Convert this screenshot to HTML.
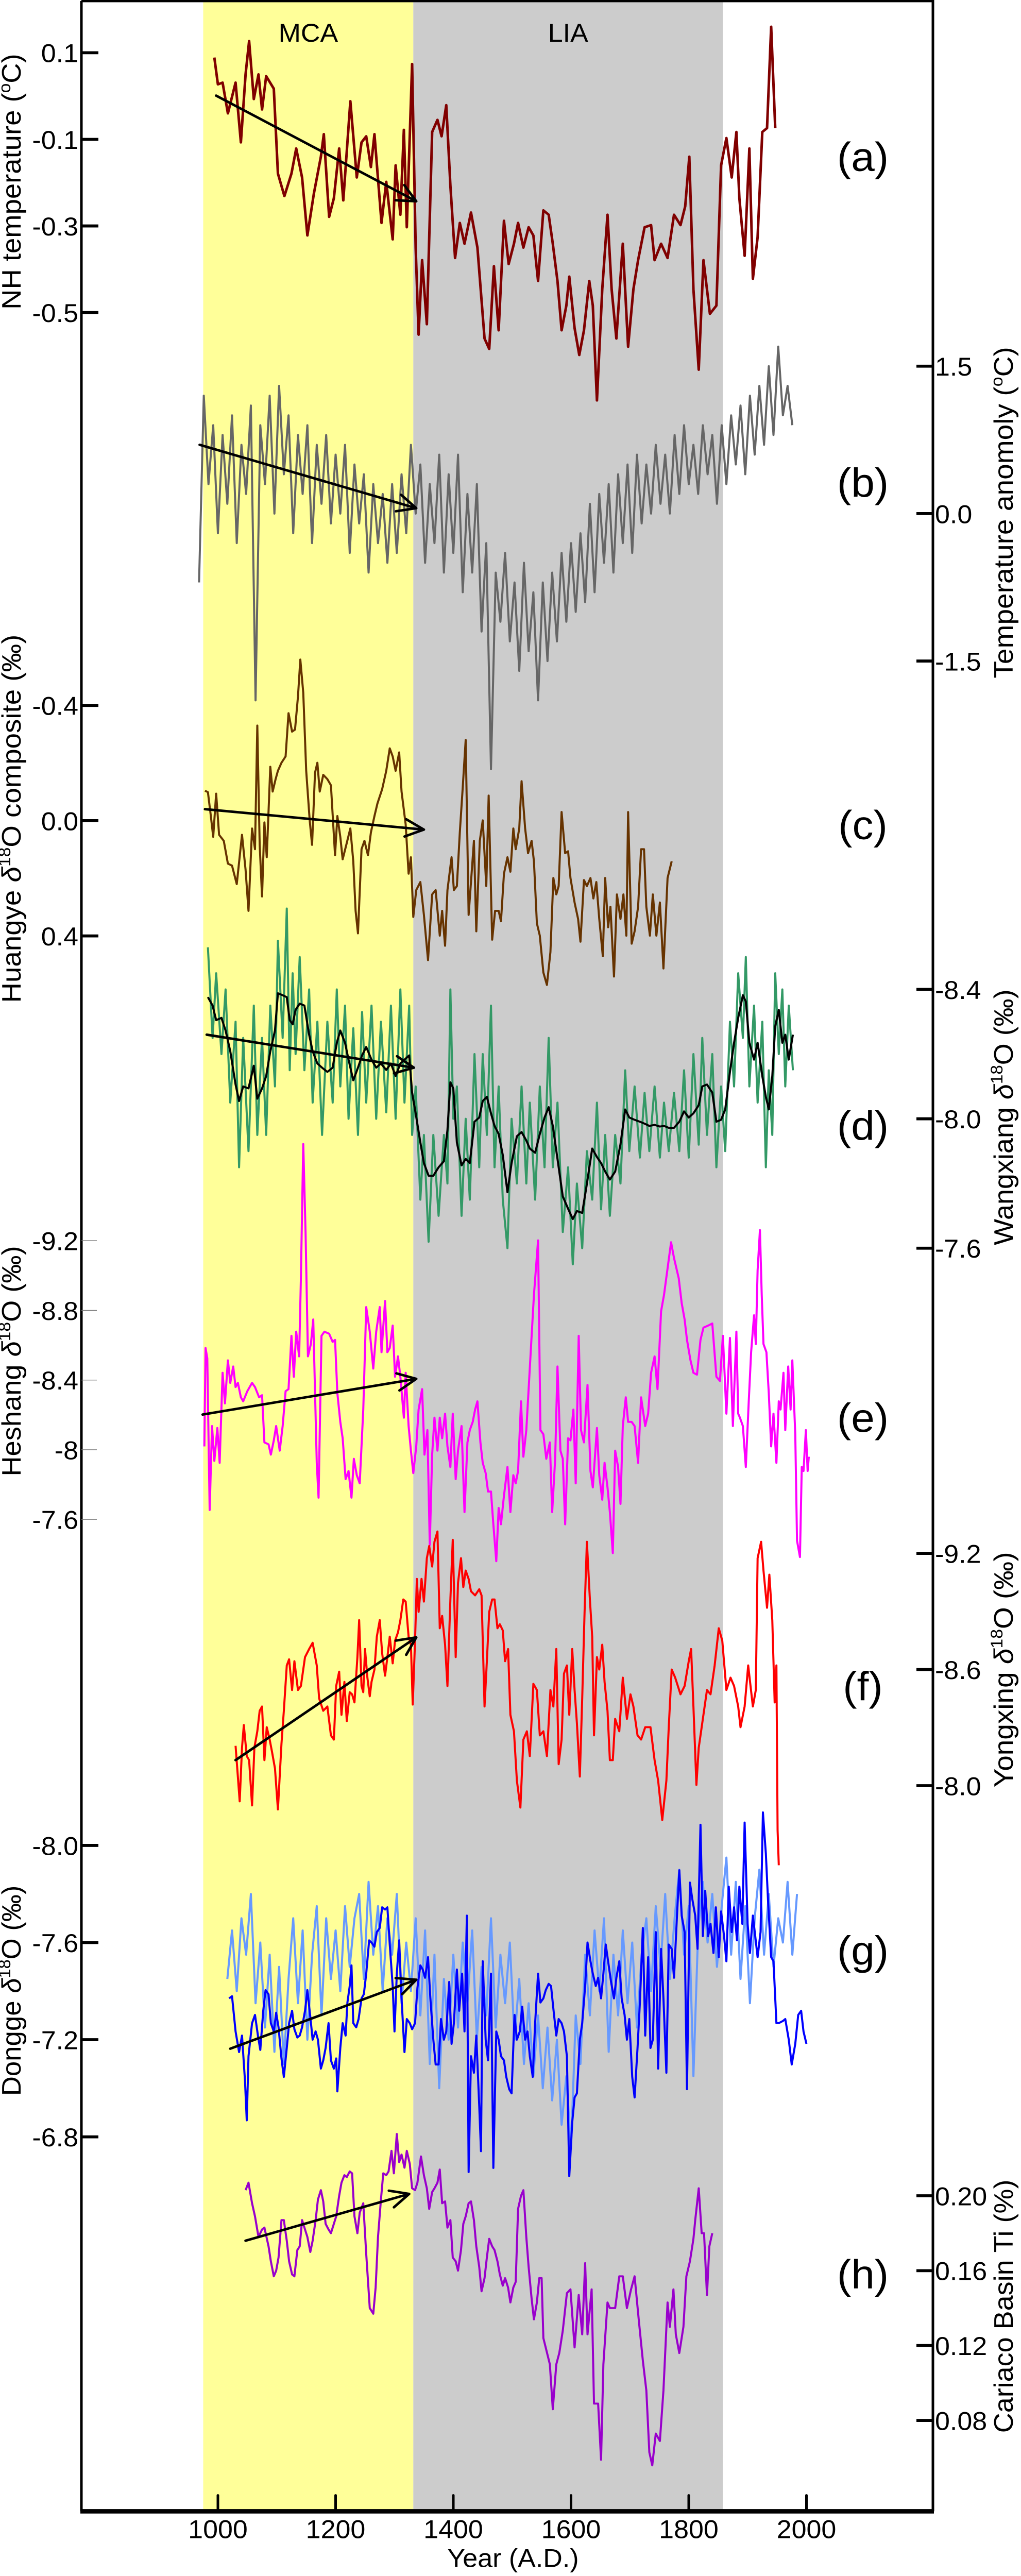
<!DOCTYPE html>
<html><head><meta charset="utf-8"><style>
html,body{margin:0;padding:0;background:#fff;width:100%;height:100%;overflow:hidden}
svg{display:block;overflow:hidden;width:100vw;height:100vh;position:absolute;left:0;top:0}
text{font-family:"Liberation Sans",Arial,sans-serif;fill:#000}
</style></head><body>
<svg id="chart" viewBox="0 0 1982 5176" preserveAspectRatio="none" xmlns="http://www.w3.org/2000/svg">
<g id="bands"></g>
<g id="series"></g>
<g id="axes"></g>
</svg>
<script>
// ---------- axis ticks ----------
const xTicks=[1000,1200,1400,1600,1800,2000];
const aTicks=[0.1,-0.1,-0.3,-0.5];
const bTicks=[1.5,0.0,-1.5];
const cTicks=[-0.4,0.0,0.4];
const dTicks=[-8.4,-8.0,-7.6];
const eTicks=[-9.2,-8.8,-8.4,-8,-7.6];
const fTicks=[-9.2,-8.6,-8.0];
const gTicks=[-8.0,-7.6,-7.2,-6.8];
const hTicks=[0.20,0.16,0.12,0.08];
const periods=[[975,1332,'MCA','#ffff99'],[1332,1858,'LIA','#cccccc']];
// ---------- (a) NH temperature ----------
const aYears=[994,1000,1008,1017,1030,1039,1047,1053,1061,1069,1075,1082,1095,1102,1113,1125,1133,1143,1152,1163,1175,1180,1189,1197,1206,1213,1225,1236,1244,1252,1260,1266,1278,1286,1297,1302,1310,1316,1321,1330,1336,1341,1347,1355,1364,1373,1380,1388,1395,1403,1411,1419,1430,1441,1453,1461,1469,1477,1486,1494,1503,1510,1519,1528,1536,1544,1553,1562,1569,1577,1584,1592,1597,1606,1614,1622,1631,1637,1644,1653,1662,1669,1677,1688,1697,1706,1714,1725,1736,1742,1753,1764,1775,1786,1794,1801,1808,1817,1825,1836,1847,1855,1864,1873,1881,1886,1895,1903,1909,1917,1925,1933,1940,1947];
const aVals=[0.089,0.027,0.031,-0.040,0.031,-0.107,0.050,0.127,-0.007,0.050,-0.031,0.046,0.017,-0.179,-0.231,-0.179,-0.121,-0.188,-0.322,-0.226,-0.140,-0.088,-0.279,-0.236,-0.121,-0.241,-0.012,-0.188,-0.107,-0.093,-0.164,-0.088,-0.293,-0.198,-0.331,-0.160,-0.274,-0.078,-0.303,0.074,-0.350,-0.551,-0.379,-0.527,-0.083,-0.055,-0.093,-0.021,-0.207,-0.374,-0.293,-0.341,-0.269,-0.350,-0.560,-0.584,-0.393,-0.541,-0.288,-0.388,-0.341,-0.293,-0.350,-0.303,-0.322,-0.427,-0.264,-0.274,-0.341,-0.427,-0.541,-0.484,-0.417,-0.536,-0.598,-0.541,-0.427,-0.484,-0.703,-0.446,-0.274,-0.446,-0.560,-0.341,-0.579,-0.446,-0.379,-0.303,-0.298,-0.379,-0.341,-0.374,-0.274,-0.298,-0.255,-0.140,-0.446,-0.632,-0.379,-0.503,-0.484,-0.160,-0.097,-0.188,-0.083,-0.236,-0.369,-0.121,-0.422,-0.326,-0.083,-0.074,0.160,-0.074];
const aArrow=[997,0.001,1337,-0.243];
// ---------- (b) temperature anomaly ----------
const bYears=[968,976,984,992,1000,1008,1016,1024,1032,1040,1048,1056,1064,1072,1080,1088,1096,1104,1112,1120,1128,1136,1144,1152,1160,1168,1176,1184,1192,1200,1208,1216,1224,1232,1240,1248,1256,1264,1272,1280,1288,1296,1304,1312,1320,1328,1336,1344,1352,1360,1368,1376,1384,1392,1400,1408,1416,1424,1432,1440,1448,1456,1464,1472,1480,1488,1496,1504,1512,1520,1528,1536,1544,1552,1560,1568,1576,1584,1592,1600,1608,1616,1624,1632,1640,1648,1656,1664,1672,1680,1688,1696,1704,1712,1720,1728,1736,1744,1752,1760,1768,1776,1784,1792,1800,1808,1816,1824,1832,1840,1848,1856,1864,1872,1880,1888,1896,1904,1912,1920,1928,1936,1944,1952,1960,1968,1976];
const bVals=[-0.7,1.2,0.3,0.9,-0.2,0.8,0.1,1.0,-0.3,0.7,0.2,1.1,-1.9,0.9,0.3,1.2,0.0,1.3,0.4,1.0,-0.2,0.8,0.2,0.9,-0.3,0.7,0.1,0.8,-0.1,0.6,0.0,0.7,-0.4,0.5,-0.1,0.4,-0.6,0.3,-0.3,0.2,-0.5,0.3,-0.4,0.4,-0.2,0.7,0.0,0.5,-0.5,0.3,-0.3,0.6,-0.6,0.4,-0.4,0.6,-0.8,0.2,-0.6,0.3,-1.2,-0.3,-2.6,-0.6,-1.1,-0.4,-1.3,-0.7,-1.6,-0.5,-1.4,-0.8,-1.9,-0.7,-1.5,-0.6,-1.3,-0.4,-1.1,-0.3,-1.0,-0.2,-0.9,0.1,-0.8,0.2,-0.5,0.3,-0.6,0.4,-0.3,0.5,-0.4,0.6,-0.1,0.5,0.0,0.7,0.1,0.6,0.0,0.8,0.2,0.9,0.3,0.7,0.2,0.9,0.4,0.8,0.1,0.9,0.3,1.0,0.5,1.1,0.4,1.2,0.6,1.3,0.7,1.5,0.8,1.7,1.0,1.3,0.9];
const bArrow=[969,0.70,1337,0.055];
// ---------- (c) Huangye ----------
const cYears=[978,983,988,992,997,1002,1010,1017,1024,1032,1041,1047,1052,1058,1063,1067,1071,1075,1079,1083,1089,1093,1098,1102,1108,1115,1120,1126,1131,1136,1140,1145,1150,1156,1160,1165,1169,1173,1179,1186,1192,1199,1203,1208,1212,1219,1225,1230,1234,1238,1244,1249,1255,1260,1266,1271,1279,1286,1292,1297,1302,1308,1312,1319,1324,1328,1332,1337,1344,1350,1357,1364,1370,1377,1381,1386,1390,1397,1401,1406,1411,1416,1421,1426,1430,1435,1439,1445,1450,1456,1460,1466,1471,1477,1481,1486,1492,1497,1502,1506,1512,1516,1522,1527,1533,1537,1542,1547,1553,1559,1565,1570,1575,1579,1584,1590,1595,1599,1606,1612,1616,1622,1627,1633,1638,1643,1648,1654,1658,1663,1667,1673,1678,1684,1689,1694,1697,1703,1708,1714,1719,1724,1728,1734,1739,1745,1751,1757,1764,1771];
const cVals=[-0.104,-0.099,-0.016,0.056,-0.094,0.049,0.070,0.149,0.156,0.220,0.049,0.170,0.313,0.027,0.099,-0.330,0.084,0.263,0.006,0.127,-0.187,-0.101,-0.144,-0.173,-0.201,-0.223,-0.373,-0.309,-0.316,-0.430,-0.559,-0.444,-0.173,-0.001,0.084,-0.166,-0.201,-0.101,-0.159,-0.144,-0.123,0.120,-0.016,0.056,0.134,0.077,0.027,0.141,0.313,0.391,0.099,0.070,0.120,0.041,-0.016,-0.059,-0.109,-0.173,-0.251,-0.223,-0.173,-0.237,-0.101,0.013,0.184,0.127,0.334,0.241,0.213,0.327,0.484,0.256,0.241,0.399,0.313,0.434,0.241,0.127,0.241,0.227,0.041,-0.116,-0.280,0.327,0.213,0.070,0.384,0.070,-0.001,0.227,-0.087,0.413,0.313,0.313,0.349,0.184,0.127,0.177,0.027,0.099,0.027,-0.137,0.027,0.113,0.070,0.141,0.356,0.399,0.527,0.570,0.456,0.199,0.256,0.227,-0.030,0.113,0.106,0.199,0.284,0.341,0.420,0.206,0.227,0.199,0.270,0.213,0.341,0.470,0.199,0.370,0.299,0.541,0.256,0.341,0.256,0.399,-0.030,0.427,0.384,0.299,0.099,0.099,0.299,0.399,0.256,0.399,0.284,0.513,0.199,0.141];
const cArrow=[978,-0.040,1350,0.031];
// ---------- (d) Wangxiang ----------
const dYears=[983,991,997,1006,1013,1021,1030,1036,1043,1052,1061,1067,1075,1082,1089,1097,1102,1110,1117,1122,1127,1132,1139,1147,1155,1161,1169,1177,1186,1195,1202,1208,1216,1222,1230,1238,1245,1252,1261,1269,1277,1286,1294,1302,1310,1317,1325,1330,1336,1344,1350,1358,1366,1375,1384,1390,1395,1400,1406,1414,1421,1428,1436,1444,1450,1457,1464,1470,1477,1484,1492,1499,1508,1516,1524,1530,1539,1547,1555,1562,1569,1577,1586,1595,1603,1610,1619,1627,1636,1644,1651,1658,1666,1675,1684,1692,1699,1708,1717,1725,1733,1742,1751,1758,1766,1775,1784,1792,1800,1808,1817,1823,1831,1840,1847,1855,1862,1870,1877,1884,1892,1897,1903,1911,1917,1925,1931,1936,1942,1947,1953,1959,1964,1970,1977];
const dSmooth=[-8.376,-8.350,-8.305,-8.312,-8.273,-8.209,-8.106,-8.055,-8.100,-8.094,-8.164,-8.062,-8.094,-8.132,-8.209,-8.273,-8.388,-8.382,-8.376,-8.305,-8.292,-8.337,-8.356,-8.350,-8.260,-8.209,-8.171,-8.158,-8.145,-8.158,-8.235,-8.273,-8.235,-8.183,-8.119,-8.158,-8.196,-8.222,-8.183,-8.158,-8.171,-8.151,-8.171,-8.132,-8.171,-8.183,-8.196,-8.081,-8.017,-7.927,-7.863,-7.824,-7.824,-7.850,-7.869,-7.965,-8.113,-8.094,-7.927,-7.856,-7.876,-7.863,-7.991,-8.004,-8.055,-8.068,-8.017,-7.978,-7.953,-7.888,-7.773,-7.863,-7.946,-7.959,-7.933,-7.908,-7.895,-7.953,-8.004,-8.036,-7.978,-7.876,-7.760,-7.722,-7.690,-7.715,-7.709,-7.799,-7.908,-7.882,-7.863,-7.837,-7.812,-7.837,-7.921,-8.029,-8.004,-7.997,-7.991,-7.985,-7.978,-7.981,-7.976,-7.978,-7.972,-7.972,-7.991,-8.023,-8.004,-8.017,-8.042,-8.100,-8.106,-8.081,-7.991,-7.997,-8.029,-8.145,-8.235,-8.312,-8.382,-8.363,-8.235,-8.183,-8.235,-8.132,-8.068,-8.029,-8.132,-8.286,-8.337,-8.235,-8.260,-8.183,-8.260];
const dRaw=[-8.53,-8.25,-8.45,-8.20,-8.40,-8.05,-8.30,-7.85,-8.25,-7.90,-8.35,-7.95,-8.25,-7.95,-8.35,-8.10,-8.55,-8.25,-8.65,-8.15,-8.45,-8.20,-8.50,-8.15,-8.40,-8.05,-8.30,-7.95,-8.30,-8.05,-8.40,-8.10,-8.35,-8.00,-8.28,-7.95,-8.33,-8.05,-8.35,-8.00,-8.30,-8.02,-8.35,-8.00,-8.40,-8.05,-8.35,-7.95,-8.10,-7.75,-7.95,-7.62,-7.95,-7.70,-7.95,-7.80,-8.40,-8.00,-8.10,-7.70,-8.00,-7.75,-8.20,-7.85,-8.20,-7.95,-8.35,-7.85,-8.10,-7.75,-7.60,-8.00,-7.80,-8.10,-7.80,-8.05,-7.75,-8.10,-7.85,-8.25,-7.85,-8.05,-7.65,-7.85,-7.55,-7.80,-7.60,-7.90,-7.75,-8.05,-7.72,-7.95,-7.70,-7.95,-7.80,-8.15,-7.90,-8.10,-7.88,-8.08,-7.90,-8.10,-7.88,-8.05,-7.90,-8.08,-7.90,-8.15,-7.88,-8.20,-7.92,-8.25,-7.95,-8.20,-7.85,-8.10,-7.90,-8.30,-8.10,-8.45,-8.25,-8.50,-8.10,-8.35,-8.05,-8.30,-7.85,-8.15,-7.95,-8.45,-8.20,-8.40,-8.10,-8.35,-8.15];
const dArrow=[981,-8.26,1333,-8.158];
// ---------- (e) Heshang ----------
const eYears=[977,979,982,986,990,994,999,1003,1008,1012,1017,1021,1026,1030,1034,1039,1043,1050,1058,1063,1070,1075,1079,1086,1090,1095,1099,1105,1110,1115,1120,1125,1129,1133,1138,1141,1145,1149,1153,1158,1162,1168,1171,1176,1181,1189,1195,1199,1203,1208,1212,1217,1222,1227,1231,1236,1241,1247,1252,1258,1264,1269,1275,1278,1284,1288,1292,1297,1301,1306,1310,1316,1319,1324,1328,1332,1337,1341,1347,1351,1356,1360,1364,1368,1373,1377,1381,1386,1390,1395,1399,1404,1408,1414,1419,1424,1428,1433,1437,1441,1446,1450,1455,1459,1464,1468,1473,1477,1481,1486,1492,1497,1502,1506,1510,1515,1519,1524,1528,1533,1537,1544,1548,1553,1558,1564,1568,1573,1577,1582,1586,1590,1595,1599,1604,1608,1613,1617,1622,1628,1633,1637,1644,1648,1653,1657,1662,1666,1671,1675,1680,1684,1688,1693,1697,1703,1708,1714,1719,1726,1731,1736,1742,1747,1753,1758,1770,1775,1783,1788,1793,1797,1803,1808,1814,1820,1825,1833,1840,1847,1853,1858,1864,1870,1875,1881,1884,1887,1892,1897,1902,1906,1911,1914,1917,1921,1924,1927,1932,1936,1940,1944,1949,1953,1956,1961,1964,1969,1973,1976,1981,1984,1989,1992,1995,1999,2002,2004];
const eVals=[-8.019,-8.584,-8.525,-7.654,-8.136,-7.936,-8.125,-7.925,-8.442,-8.266,-8.513,-8.384,-8.478,-8.360,-8.384,-8.301,-8.278,-8.336,-8.384,-8.360,-8.301,-8.313,-8.042,-8.031,-7.972,-8.054,-8.136,-7.995,-8.136,-8.336,-8.348,-8.654,-8.419,-8.678,-8.536,-8.984,-9.755,-9.242,-8.536,-8.607,-8.748,-7.925,-7.725,-8.654,-8.678,-8.666,-8.619,-8.631,-8.325,-8.160,-8.066,-7.831,-7.878,-7.725,-7.948,-7.854,-7.807,-8.231,-8.819,-8.678,-8.466,-8.678,-8.819,-8.560,-8.854,-8.560,-8.584,-8.713,-8.419,-8.536,-8.419,-8.184,-8.442,-8.136,-7.995,-7.866,-8.019,-8.231,-8.348,-7.972,-8.113,-7.454,-7.972,-8.184,-7.995,-8.184,-8.066,-8.207,-8.019,-7.901,-8.207,-7.831,-7.995,-8.136,-7.642,-8.042,-8.113,-8.160,-8.231,-8.278,-8.042,-7.925,-7.866,-7.760,-7.760,-7.572,-7.360,-7.666,-7.572,-7.736,-7.901,-7.642,-7.854,-7.807,-7.878,-8.278,-7.960,-8.113,-8.348,-8.654,-8.889,-9.202,-8.113,-8.089,-7.948,-8.042,-7.642,-7.948,-8.478,-7.995,-7.948,-7.572,-8.066,-8.054,-8.231,-7.807,-8.654,-8.113,-8.042,-8.372,-7.878,-7.784,-8.125,-7.854,-7.713,-7.925,-7.784,-7.642,-7.407,-7.995,-7.901,-7.689,-8.136,-8.301,-8.160,-8.160,-8.136,-7.925,-8.301,-8.136,-8.207,-8.442,-8.536,-8.348,-8.795,-8.889,-9.191,-9.101,-8.984,-8.842,-8.748,-8.631,-8.513,-8.442,-8.431,-8.631,-8.701,-8.713,-8.725,-8.419,-8.395,-8.654,-8.207,-8.642,-8.136,-8.678,-8.207,-8.184,-8.136,-7.901,-8.278,-8.560,-8.772,-8.607,-9.031,-9.261,-8.889,-8.607,-8.560,-8.325,-8.019,-8.207,-7.925,-8.278,-8.231,-8.442,-8.113,-8.478,-8.231,-8.513,-8.089,-7.478,-7.384,-7.901,-7.878,-8.113,-7.878,-7.960];
const eArrow=[974,-8.202,1337,-8.407];
// ---------- (f) Yongxing ----------
const fYears=[1030,1037,1041,1044,1049,1053,1058,1062,1067,1071,1075,1079,1083,1088,1092,1097,1102,1108,1112,1117,1121,1126,1130,1136,1141,1148,1155,1161,1168,1172,1179,1186,1192,1197,1201,1206,1210,1215,1219,1224,1228,1232,1237,1240,1244,1247,1250,1254,1258,1261,1266,1270,1275,1279,1284,1288,1292,1297,1301,1306,1310,1315,1319,1324,1328,1331,1335,1338,1341,1346,1350,1355,1359,1364,1368,1373,1377,1381,1386,1390,1395,1399,1404,1408,1413,1417,1421,1426,1430,1437,1444,1448,1453,1457,1461,1466,1470,1475,1479,1484,1488,1493,1497,1503,1508,1514,1519,1525,1530,1536,1542,1547,1553,1559,1565,1570,1575,1579,1584,1588,1593,1597,1602,1606,1610,1615,1619,1623,1627,1632,1636,1639,1644,1648,1653,1657,1662,1666,1671,1675,1682,1688,1695,1701,1706,1713,1719,1726,1735,1742,1748,1755,1762,1766,1771,1777,1786,1793,1800,1804,1808,1813,1817,1824,1831,1837,1844,1851,1857,1864,1871,1877,1884,1888,1895,1901,1909,1914,1917,1923,1927,1933,1937,1942,1946,1949,1951,1953];
const fVals=[-8.206,-7.919,-8.196,-8.313,-8.153,-8.132,-7.898,-8.196,-8.281,-8.387,-8.409,-8.132,-8.302,-8.238,-8.174,-8.089,-7.877,-8.217,-8.387,-8.621,-8.653,-8.494,-8.643,-8.494,-8.515,-8.664,-8.706,-8.738,-8.621,-8.451,-8.387,-8.409,-8.260,-8.238,-8.515,-8.589,-8.366,-8.536,-8.334,-8.483,-8.472,-8.430,-8.664,-8.855,-8.515,-8.483,-8.706,-8.558,-8.462,-8.536,-8.600,-8.770,-8.855,-8.685,-8.568,-8.664,-8.770,-8.632,-8.749,-8.792,-8.855,-8.962,-8.951,-8.770,-8.728,-8.419,-8.749,-9.068,-8.898,-9.068,-8.951,-9.175,-9.238,-9.132,-9.260,-9.313,-8.813,-8.877,-8.728,-8.515,-8.962,-9.270,-8.664,-9.047,-9.175,-9.026,-9.111,-9.068,-9.004,-8.983,-9.015,-8.983,-8.409,-8.643,-8.898,-8.962,-8.962,-8.813,-8.834,-8.802,-8.643,-8.706,-8.366,-8.281,-8.026,-7.887,-8.238,-8.281,-8.153,-8.526,-8.494,-8.260,-8.281,-8.153,-8.494,-8.409,-8.706,-8.111,-8.238,-8.579,-8.621,-8.366,-8.706,-8.494,-8.323,-8.047,-8.451,-8.898,-9.260,-8.962,-8.770,-8.260,-8.664,-8.600,-8.728,-8.536,-8.387,-8.132,-8.132,-8.345,-8.281,-8.558,-8.345,-8.472,-8.409,-8.260,-8.238,-8.302,-8.302,-8.132,-8.026,-7.823,-8.026,-8.302,-8.600,-8.558,-8.472,-8.515,-8.643,-8.706,-8.409,-8.004,-8.196,-8.345,-8.494,-8.472,-8.621,-8.813,-8.749,-8.494,-8.558,-8.515,-8.409,-8.302,-8.409,-8.621,-8.409,-8.494,-9.175,-9.260,-9.111,-8.919,-9.090,-8.855,-8.430,-8.621,-7.770,-7.589];
const fArrow=[1030,-8.132,1337,-8.766];
// ---------- (g) Dongge ----------
const gYearsA=[1016,1024,1032,1040,1048,1056,1064,1072,1080,1088,1096,1104,1112,1120,1128,1136,1144,1152,1160,1168,1176,1184,1192,1200,1208,1216,1224,1232,1240,1248,1256,1264,1272,1280,1288,1296,1304,1312,1320,1328,1336,1344,1352,1360,1368,1376,1384,1392,1400,1408,1416,1424,1432,1440,1448,1456,1464,1472,1480,1488,1496,1504,1512,1520,1528,1536,1544,1552,1560,1568,1576,1584,1592,1600,1608,1616,1624,1632,1640,1648,1656,1664,1672,1680,1688,1696,1704,1712,1720,1728,1736,1744,1752,1760,1768,1776,1784,1792,1800,1808,1816,1824,1832,1840,1848,1856,1864,1872,1880,1888,1896,1904,1912,1920,1928,1936,1944,1952,1960,1968,1976,1984];
const gValsA=[-7.45,-7.65,-7.40,-7.70,-7.55,-7.80,-7.35,-7.60,-7.25,-7.55,-7.15,-7.50,-7.10,-7.45,-7.70,-7.35,-7.65,-7.20,-7.55,-7.75,-7.30,-7.70,-7.45,-7.65,-7.40,-7.75,-7.50,-7.70,-7.80,-7.45,-7.85,-7.55,-7.75,-7.40,-7.70,-7.55,-7.80,-7.35,-7.60,-7.40,-7.70,-7.30,-7.65,-7.10,-7.55,-7.00,-7.45,-7.20,-7.55,-7.25,-7.60,-7.35,-7.65,-7.20,-7.50,-7.30,-7.70,-7.25,-7.55,-7.35,-7.60,-7.20,-7.45,-7.10,-7.35,-7.05,-7.30,-7.00,-7.25,-6.95,-7.20,-6.85,-7.05,-6.75,-7.30,-7.10,-7.55,-7.30,-7.65,-7.40,-7.70,-7.15,-7.55,-7.30,-7.65,-7.35,-7.60,-7.25,-7.55,-7.70,-7.40,-7.75,-7.50,-7.80,-7.45,-7.70,-7.90,-7.55,-7.75,-7.05,-7.65,-7.85,-7.60,-7.80,-7.50,-7.75,-7.95,-7.55,-7.85,-7.45,-7.75,-7.35,-7.70,-7.90,-7.55,-7.80,-7.50,-7.70,-7.60,-7.85,-7.55,-7.80];
const gYearsB=[1019,1024,1030,1036,1041,1046,1049,1052,1058,1063,1068,1072,1077,1081,1086,1090,1095,1099,1103,1108,1112,1117,1121,1126,1130,1135,1139,1143,1148,1152,1157,1161,1166,1170,1175,1179,1183,1188,1192,1197,1201,1203,1208,1212,1217,1220,1224,1227,1230,1235,1239,1244,1248,1252,1257,1261,1266,1270,1275,1279,1284,1288,1292,1297,1300,1304,1308,1312,1317,1321,1326,1330,1335,1339,1344,1348,1352,1357,1361,1366,1370,1375,1379,1384,1388,1393,1397,1401,1406,1410,1415,1419,1423,1426,1430,1435,1439,1444,1447,1450,1455,1459,1464,1468,1473,1477,1481,1486,1490,1495,1499,1504,1508,1513,1517,1522,1526,1530,1535,1539,1544,1548,1553,1557,1562,1566,1570,1575,1579,1584,1588,1593,1597,1602,1606,1610,1615,1619,1624,1628,1633,1637,1642,1646,1651,1655,1659,1664,1668,1673,1677,1682,1686,1691,1695,1699,1704,1708,1713,1717,1722,1726,1731,1735,1739,1744,1748,1753,1757,1762,1766,1771,1775,1780,1784,1788,1793,1797,1802,1806,1811,1815,1820,1824,1828,1833,1837,1842,1846,1851,1855,1860,1864,1868,1873,1877,1882,1886,1891,1895,1900,1904,1909,1913,1917,1922,1926,1931,1935,1940,1944,1949,1953,1960,1964,1970,1975,1981,1986,1991,1995,2000];
const gValsB=[-7.370,-7.379,-7.234,-7.149,-7.217,-7.030,-6.868,-7.132,-7.268,-7.302,-7.217,-7.158,-7.319,-7.404,-7.387,-7.268,-7.234,-7.311,-7.251,-7.123,-7.047,-7.166,-7.268,-7.319,-7.243,-7.209,-7.217,-7.251,-7.319,-7.404,-7.294,-7.200,-7.234,-7.200,-7.081,-7.115,-7.166,-7.268,-7.115,-7.081,-7.123,-6.987,-7.166,-7.268,-7.217,-7.353,-7.421,-7.506,-7.268,-7.251,-7.285,-7.370,-7.387,-7.472,-7.609,-7.600,-7.583,-7.643,-7.660,-7.745,-7.736,-7.745,-7.592,-7.421,-7.234,-7.472,-7.609,-7.370,-7.149,-7.285,-7.268,-7.243,-7.268,-7.413,-7.506,-7.489,-7.455,-7.540,-7.370,-7.200,-7.098,-7.098,-7.285,-7.200,-7.234,-7.438,-7.183,-7.268,-7.489,-7.319,-7.472,-7.234,-7.711,-6.655,-7.132,-7.064,-7.217,-6.928,-6.741,-7.523,-7.200,-7.115,-7.472,-6.672,-7.234,-7.200,-7.132,-7.115,-7.047,-6.996,-6.979,-7.302,-7.200,-7.234,-7.336,-7.200,-7.234,-7.132,-7.047,-7.268,-7.472,-7.353,-7.370,-7.404,-7.430,-7.421,-7.328,-7.217,-7.285,-7.268,-7.234,-7.132,-6.638,-6.860,-6.962,-6.979,-7.200,-7.268,-7.421,-7.600,-7.523,-7.472,-7.421,-7.455,-7.370,-7.472,-7.592,-7.506,-7.438,-7.370,-7.455,-7.523,-7.370,-7.302,-7.200,-7.285,-7.047,-6.962,-7.166,-7.353,-7.660,-7.217,-7.540,-7.166,-7.200,-7.643,-7.081,-7.574,-7.370,-7.064,-7.592,-7.574,-7.455,-7.711,-7.898,-7.711,-7.643,-6.996,-7.847,-7.779,-7.711,-7.574,-8.085,-7.626,-7.813,-7.626,-7.677,-7.557,-7.745,-7.540,-7.728,-7.626,-7.523,-7.830,-7.643,-7.745,-7.609,-7.830,-7.677,-8.094,-7.677,-7.557,-7.711,-7.626,-7.540,-7.643,-8.136,-7.966,-7.762,-7.540,-7.523,-7.268,-7.268,-7.277,-7.285,-7.200,-7.098,-7.183,-7.302,-7.319,-7.234,-7.183];
const gArrow=[1021,-7.163,1337,-7.447];
// ---------- (h) Cariaco Ti ----------
const hYears=[1047,1052,1058,1063,1069,1075,1079,1086,1090,1095,1099,1103,1108,1112,1117,1121,1126,1130,1135,1139,1143,1148,1152,1157,1161,1166,1170,1175,1179,1183,1188,1192,1197,1201,1206,1210,1215,1219,1224,1228,1232,1237,1241,1247,1252,1258,1264,1268,1272,1277,1281,1286,1290,1295,1299,1304,1308,1312,1317,1321,1326,1330,1335,1339,1345,1350,1355,1359,1364,1368,1373,1377,1381,1386,1390,1395,1399,1404,1408,1413,1417,1421,1426,1430,1435,1439,1444,1448,1453,1457,1461,1466,1470,1475,1479,1484,1488,1493,1497,1502,1506,1510,1515,1519,1524,1528,1533,1537,1542,1546,1550,1553,1564,1569,1575,1580,1586,1593,1599,1606,1613,1619,1624,1628,1635,1639,1646,1651,1655,1662,1666,1675,1682,1688,1695,1702,1708,1715,1722,1728,1733,1738,1744,1751,1757,1764,1768,1774,1778,1784,1791,1796,1802,1808,1811,1817,1822,1826,1831,1835,1840];
const hVals=[0.203,0.207,0.196,0.189,0.178,0.182,0.183,0.173,0.165,0.157,0.160,0.167,0.187,0.187,0.176,0.165,0.158,0.157,0.171,0.173,0.187,0.182,0.178,0.170,0.176,0.187,0.198,0.203,0.197,0.185,0.182,0.180,0.185,0.189,0.200,0.207,0.211,0.210,0.213,0.212,0.189,0.180,0.191,0.196,0.169,0.140,0.137,0.151,0.178,0.198,0.212,0.211,0.213,0.224,0.212,0.233,0.218,0.222,0.215,0.224,0.217,0.204,0.203,0.207,0.221,0.211,0.204,0.193,0.202,0.204,0.207,0.214,0.196,0.197,0.183,0.187,0.167,0.165,0.160,0.171,0.185,0.189,0.196,0.197,0.187,0.173,0.162,0.149,0.156,0.167,0.177,0.173,0.171,0.165,0.158,0.152,0.156,0.151,0.143,0.151,0.154,0.193,0.200,0.203,0.178,0.162,0.145,0.134,0.143,0.156,0.156,0.124,0.110,0.086,0.110,0.116,0.128,0.148,0.150,0.119,0.147,0.126,0.164,0.126,0.150,0.089,0.089,0.059,0.110,0.143,0.140,0.140,0.157,0.157,0.140,0.150,0.157,0.134,0.112,0.096,0.063,0.056,0.073,0.069,0.096,0.143,0.130,0.150,0.126,0.116,0.130,0.157,0.165,0.177,0.187,0.204,0.180,0.180,0.147,0.173,0.180];
const hArrow=[1047,0.176,1325,0.201];

// ---------- scales ----------
const X=y=>423+(y-1000)*1.1425;
const Ya=v=>106+(0.1-v)*870;
const Yb=v=>1032-v*197.5;
const Yc=v=>1649+v*579;
const Yd=v=>2248+(v+8)*650;
const Ye=v=>2913+(v+8)*350;
const Yf=v=>3588+(v+8)*389;
const Yg=v=>3708+(v+8)*488;
const Yh=v=>4412+(0.20-v)*3762;

const NS='http://www.w3.org/2000/svg';
function mk(tag,attrs,parent){const e=document.createElementNS(NS,tag);for(const k in attrs)e.setAttribute(k,attrs[k]);parent.appendChild(e);return e;}
const bandsG=document.getElementById('bands');
const seriesG=document.getElementById('series');
const axesG=document.getElementById('axes');
const AXB=5046;

periods.forEach(p=>{
  const r=mk('rect',{x:X(p[0]),y:0,width:X(p[1])-X(p[0]),height:AXB,fill:p[3]},bandsG);
  
  
  const t=mk('text',{x:(X(p[0])+X(p[1]))/2,y:84,'text-anchor':'middle','font-size':52},bandsG);
  t.textContent=p[2];
  
  
});

function line(years,vals,Y,color,w,name){
  const n=Math.min(years.length,vals.length);let d='';
  for(let i=0;i<n;i++)d+=(i?'L':'M')+X(years[i]).toFixed(1)+' '+Y(vals[i]).toFixed(1);
  const p=mk('path',{d:d,fill:'none',stroke:color,'stroke-width':w,'stroke-linejoin':'round'},seriesG);
  
  
}
function arrow(a,Y,name){
  const x1=X(a[0]),y1=Y(a[1]),x2=X(a[2]),y2=Y(a[3]);
  const ang=Math.atan2(y2-y1,x2-x1),L=40,s=0.45;
  const d='M'+x1+' '+y1+'L'+x2+' '+y2+'M'+(x2-L*Math.cos(ang-s))+' '+(y2-L*Math.sin(ang-s))+'L'+x2+' '+y2+'L'+(x2-L*Math.cos(ang+s))+' '+(y2-L*Math.sin(ang+s));
  const p=mk('path',{d:d,fill:'none',stroke:'#000','stroke-width':5,'stroke-linecap':'round','stroke-linejoin':'round'},seriesG);
  
  
}
line(aYears,aVals,Ya,'#800000',5,'series-a-nh-temperature');
line(bYears,bVals,Yb,'#666666',4,'series-b-temperature-anomaly');
line(cYears,cVals,Yc,'#663300',4,'series-c-huangye');
line(dYears,dRaw,Yd,'#339966',4,'series-d-wangxiang-raw');
line(dYears,dSmooth,Yd,'#000000',4,'series-d-wangxiang-smooth');
line(eYears,eVals,Ye,'#ff00ff',4,'series-e-heshang');
line(fYears,fVals,Yf,'#ff0000',4,'series-f-yongxing');
line(gYearsA,gValsA,Yg,'#6699ff',4,'series-g-dongge-light');
line(gYearsB,gValsB,Yg,'#0000ff',4,'series-g-dongge-dark');
line(hYears,hVals,Yh,'#9900cc',4,'series-h-cariaco');
arrow(aArrow,Ya,'trend-arrow-a');
arrow(bArrow,Yb,'trend-arrow-b');
arrow(cArrow,Yc,'trend-arrow-c');
arrow(dArrow,Yd,'trend-arrow-d');
arrow(eArrow,Ye,'trend-arrow-e');
arrow(fArrow,Yf,'trend-arrow-f');
arrow(gArrow,Yg,'trend-arrow-g');
arrow(hArrow,Yh,'trend-arrow-h');

const fr=mk('path',{d:'M158 2L1811 2L1811 '+AXB+'M158 2L158 '+AXB,fill:'none',stroke:'#000','stroke-width':5},axesG);


const xb=mk('line',{x1:156,y1:AXB,x2:1813,y2:AXB,stroke:'#000','stroke-width':9},axesG);


xTicks.forEach(t=>{
  const l=mk('line',{x1:X(t),y1:AXB,x2:X(t),y2:5014,stroke:'#000','stroke-width':5,'stroke-linecap':'round'},axesG);
  
  
  const tx=mk('text',{x:X(t),y:5100,'text-anchor':'middle','font-size':52},axesG);
  tx.textContent=t;
  
  
});
const xt=mk('text',{x:996,y:5158,'text-anchor':'middle','font-size':52},axesG);
xt.textContent='Year (A.D.)';



function fmt(v,dec){return dec===0?String(v):v.toFixed(dec);}
function leftAxis(ticks,Y,dec,thin,name){
  ticks.forEach(t=>{
    const y=Y(t);
    const l=mk('line',{x1:158,y1:y,x2:thin?188:191,y2:y,stroke:thin?'#777':'#000','stroke-width':thin?1.5:6},axesG);
    
    
    const tx=mk('text',{x:152,y:y+19,'text-anchor':'end','font-size':52},axesG);
    tx.textContent=fmt(t,dec);
    
    
  });
}
function rightAxis(ticks,Y,dec,name){
  ticks.forEach(t=>{
    const y=Y(t);
    const l=mk('line',{x1:1779,y1:y,x2:1811,y2:y,stroke:'#000','stroke-width':6},axesG);
    
    
    const tx=mk('text',{x:1815,y:y+19,'text-anchor':'start','font-size':52},axesG);
    tx.textContent=fmt(t,dec);
    
    
  });
}
leftAxis(aTicks,Ya,1,false,'axis-a');
rightAxis(bTicks,Yb,1,'axis-b');
leftAxis(cTicks,Yc,1,false,'axis-c');
rightAxis(dTicks,Yd,1,'axis-d');
leftAxis(eTicks,Ye,0,true,'axis-e');
rightAxis(fTicks,Yf,1,'axis-f');
leftAxis(gTicks,Yg,1,false,'axis-g');
rightAxis(hTicks,Yh,2,'axis-h');

const titles=[
 [40,365,514,[['NH temperature (',0],['o',1],['C)',0]],'y-title-a'],
 [1966,1030,666,[['Temperature anomoly (',0],['o',1],['C)',0]],'y-title-b'],
 [40,1645,740,[['Huangye ',0],['δ',2],['18',1],['O composite (‰)',0]],'y-title-c'],
 [1966,2245,514,[['Wangxiang ',0],['δ',2],['18',1],['O (‰)',0]],'y-title-d'],
 [40,2735,463,[['Heshang ',0],['δ',2],['18',1],['O (‰)',0]],'y-title-e'],
 [1966,3355,473,[['Yongxing ',0],['δ',2],['18',1],['O (‰)',0]],'y-title-f'],
 [40,4000,423,[['Dongge ',0],['δ',2],['18',1],['O (‰)',0]],'y-title-g'],
 [1966,4634,509,[['Cariaco Basin Ti (%)',0]],'y-title-h']
];
titles.forEach(t=>{
  const tx=mk('text',{x:0,y:0,'text-anchor':'middle','font-size':52,transform:'translate('+t[0]+','+t[1]+') rotate(-90)',textLength:t[2],lengthAdjust:'spacingAndGlyphs'},axesG);
  
  
  t[3].forEach(p=>{
    const s=mk('tspan',{},tx);
    s.textContent=p[0];
    if(p[1]===1){s.setAttribute('font-size','32');s.setAttribute('dy','-20');}
    if(p[1]===2){s.setAttribute('font-style','italic');}
    if(p[1]===0&&tx.childNodes.length>1&&t[3][tx.childNodes.length-2][1]===1){s.setAttribute('dy','20');}
  });
});

const panelLabels=[['(a)',315],['(b)',970],['(c)',1658],['(d)',2262],['(e)',2849],['(f)',3388],['(g)',3919],['(h)',4570]];
panelLabels.forEach(p=>{
  const tx=mk('text',{x:1675,y:p[1]+28,'text-anchor':'middle','font-size':82,fill:'#222'},axesG);
  tx.textContent=p[0];
  
  
});
</script>
</body></html>
